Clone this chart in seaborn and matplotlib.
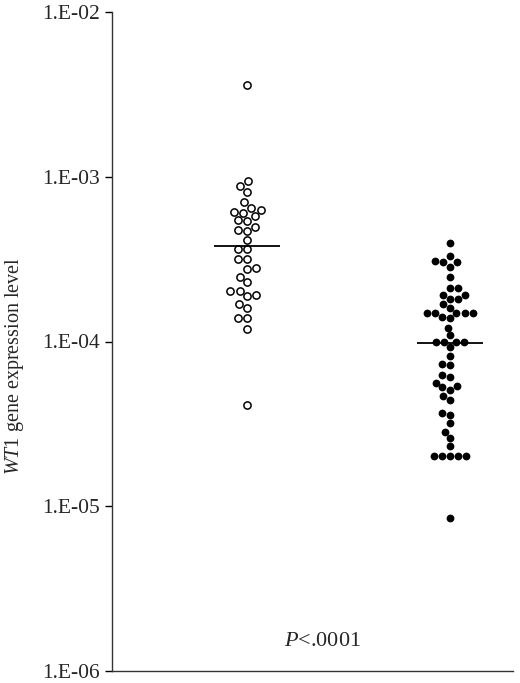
import numpy as np
import pandas as pd
import matplotlib
matplotlib.use("Agg")
import matplotlib.pyplot as plt
import seaborn as sns
from matplotlib.ticker import FixedLocator, FixedFormatter, NullLocator

# ---- data ----
groups = ["Group 1", "Group 2"]
open_values = [3.58e-3, 9.43e-4, 8.80e-4, 8.09e-4, 7.04e-4, 6.48e-4, 6.30e-4,
               6.13e-4, 6.05e-4, 5.80e-4, 5.48e-4, 5.41e-4, 4.97e-4, 4.77e-4,
               4.71e-4, 4.15e-4, 3.66e-4, 3.66e-4, 3.19e-4, 3.19e-4, 2.78e-4,
               2.74e-4, 2.48e-4, 2.29e-4, 2.02e-4, 2.02e-4, 1.91e-4, 1.88e-4,
               1.68e-4, 1.59e-4, 1.39e-4, 1.39e-4, 1.19e-4, 4.14e-5]
filled_values = [3.98e-4, 3.32e-4, 3.10e-4, 3.02e-4, 3.02e-4, 2.85e-4, 2.48e-4,
                 2.10e-4, 2.10e-4, 1.91e-4, 1.91e-4, 1.80e-4, 1.80e-4, 1.68e-4,
                 1.59e-4, 1.49e-4, 1.49e-4, 1.49e-4, 1.49e-4, 1.49e-4, 1.41e-4,
                 1.39e-4, 1.21e-4, 1.09e-4, 9.93e-5, 9.93e-5, 9.93e-5, 9.93e-5,
                 9.26e-5, 8.18e-5, 7.32e-5, 7.21e-5, 6.28e-5, 6.11e-5, 5.62e-5,
                 5.39e-5, 5.31e-5, 5.10e-5, 4.69e-5, 4.44e-5, 3.70e-5, 3.60e-5,
                 3.18e-5, 2.81e-5, 2.58e-5, 2.31e-5, 2.01e-5, 2.01e-5, 2.01e-5,
                 2.01e-5, 2.01e-5, 8.49e-6]
median_values = [3.82e-4, 9.8e-5]
ytick_values = [1e-6, 1e-5, 1e-4, 1e-3, 1e-2]
ytick_labels = ["1.E-06", "1.E-05", "1.E-04", "1.E-03", "1.E-02"]
p_text = "$\\mathit{P}$<.0001"
ylabel_text = "$\\mathit{WT1}$ gene expression level"

df = pd.DataFrame({
    "group": [groups[0]] * len(open_values) + [groups[1]] * len(filled_values),
    "value": open_values + filled_values,
})

sns.set_theme(style="white")
plt.rcParams["font.family"] = ["Liberation Serif", "DejaVu Serif"]
plt.rcParams["mathtext.fontset"] = "custom"
plt.rcParams["mathtext.it"] = "Liberation Serif:italic"
plt.rcParams["mathtext.rm"] = "Liberation Serif"

W, H = 520, 683
fig = plt.figure(figsize=(W / 100, H / 100), dpi=100)
ax = fig.add_axes([112 / W, 1 - 671 / H, 401 / W, 659 / H])
ax.set_yscale("log")

sns.swarmplot(data=df[df.group == groups[0]], x="group", y="value",
              order=groups, ax=ax, size=5.2, marker="o",
              facecolor="white", edgecolor="black", linewidth=1.1,
              color="white")
sns.swarmplot(data=df[df.group == groups[1]], x="group", y="value",
              order=groups, ax=ax, size=5.6, marker="o",
              color="black", linewidth=0)

half = 0.162
for i, m in enumerate(median_values):
    ax.hlines(m, i - half, i + half, color="black", linewidth=1.3, zorder=5)

ax.set_ylim(1e-6, 1e-2)
ax.set_xlim(-0.665, 1.31)
ax.yaxis.set_major_locator(FixedLocator(ytick_values))
ax.yaxis.set_major_formatter(FixedFormatter(ytick_labels))
ax.yaxis.set_minor_locator(NullLocator())
ax.set_xticks([])
ax.set_xlabel("")
ax.set_ylabel("")
ax.tick_params(axis="y", which="major", direction="out", length=5, width=1,
               color="black", labelsize=15.5, pad=4, left=True)
for s in ["top", "right"]:
    ax.spines[s].set_visible(False)
for s in ["left", "bottom"]:
    ax.spines[s].set_color("#333333")
    ax.spines[s].set_linewidth(1.0)

fig.text(15 / W, 1 - 366 / H, ylabel_text, rotation=90, fontsize=14.5,
         ha="center", va="center")
fig.text(322 / W, 1 - 642 / H, p_text, fontsize=16, ha="center", va="center")

fig.savefig("out.png", dpi=100, facecolor="white")
